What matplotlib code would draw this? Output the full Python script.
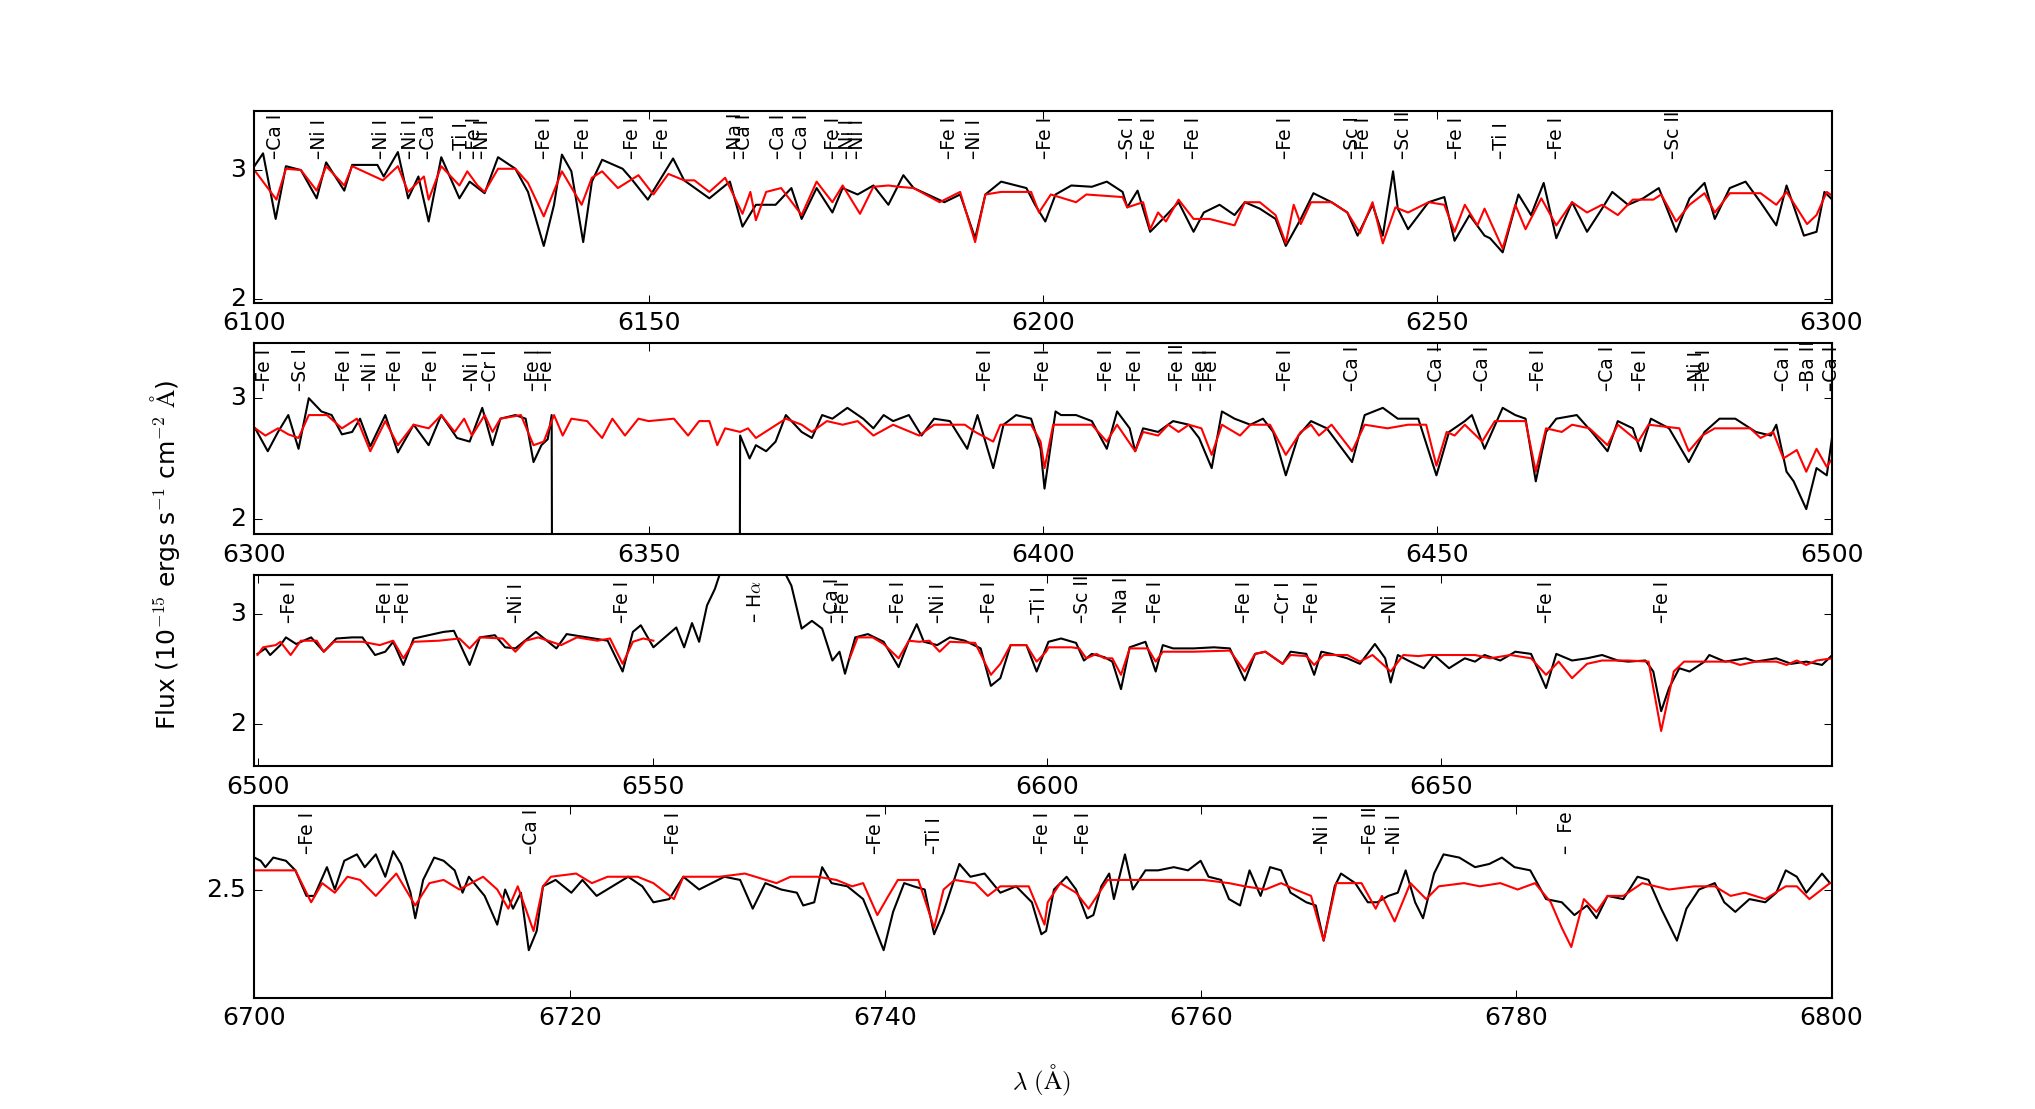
import matplotlib
matplotlib.use('Agg')
import matplotlib.pyplot as plt
import numpy as np

plt.style.use('classic')
plt.rcParams['axes.formatter.useoffset'] = False

# ---- panel 1 : 6100 - 6300 ----
wave1_obs = [6100.0, 6101.1, 6102.7, 6104.0, 6105.9, 6107.9, 6109.1, 6111.4, 6112.4, 6115.6, 6116.4, 6118.2,
             6119.5, 6120.8, 6122.1, 6123.7, 6126.0, 6127.3, 6129.2, 6130.9, 6133.1, 6134.7, 6136.7, 6138.0,
             6139.0, 6140.2, 6141.7, 6142.8, 6144.1, 6146.7, 6147.7, 6149.9, 6151.3, 6153.1, 6154.5, 6157.7,
             6160.3, 6161.9, 6163.6, 6166.1, 6168.1, 6169.4, 6171.3, 6173.3, 6174.6, 6176.5, 6178.5, 6180.4,
             6182.3, 6183.6, 6187.5, 6189.5, 6191.4, 6192.7, 6194.7, 6197.9, 6199.0, 6200.3, 6201.6, 6203.6,
             6206.2, 6208.1, 6210.1, 6210.7, 6212.0, 6213.6, 6215.2, 6217.2, 6219.1, 6220.4, 6222.4, 6224.3,
             6225.6, 6227.5, 6229.5, 6230.8, 6232.7, 6234.3, 6236.6, 6238.6, 6239.9, 6241.8, 6243.1, 6244.4,
             6245.0, 6246.3, 6248.9, 6250.9, 6252.2, 6254.1, 6256.0, 6256.7, 6258.3, 6260.3, 6261.9, 6263.5,
             6265.1, 6267.1, 6269.0, 6270.9, 6272.2, 6274.2, 6276.1, 6278.1, 6280.3, 6282.0, 6283.9, 6285.2,
             6287.1, 6289.1, 6291.0, 6293.0, 6294.3, 6296.5, 6298.1, 6299.1, 6300.1]
flux1_obs = [3.03, 3.13, 2.62, 3.03, 3.00, 2.78, 3.06, 2.84, 3.04, 3.04, 2.95, 3.14,
             2.78, 2.95, 2.60, 3.10, 2.78, 2.91, 2.82, 3.10, 3.01, 2.83, 2.41, 2.73,
             3.12, 2.99, 2.44, 2.91, 3.08, 3.01, 2.94, 2.77, 2.91, 3.09, 2.92, 2.78,
             2.91, 2.56, 2.73, 2.73, 2.86, 2.62, 2.86, 2.67, 2.86, 2.81, 2.88, 2.73,
             2.96, 2.86, 2.75, 2.81, 2.47, 2.81, 2.91, 2.86, 2.73, 2.60, 2.81, 2.88,
             2.87, 2.91, 2.83, 2.71, 2.84, 2.52, 2.62, 2.75, 2.52, 2.67, 2.73, 2.65,
             2.75, 2.70, 2.62, 2.41, 2.62, 2.82, 2.75, 2.67, 2.49, 2.73, 2.49, 2.99,
             2.70, 2.54, 2.75, 2.79, 2.45, 2.65, 2.49, 2.47, 2.36, 2.81, 2.65, 2.90,
             2.47, 2.75, 2.52, 2.70, 2.83, 2.73, 2.78, 2.86, 2.52, 2.78, 2.90, 2.62,
             2.86, 2.91, 2.75, 2.57, 2.88, 2.49, 2.52, 2.83, 2.77]
wave1_mod = [6100.0, 6102.8, 6104.0, 6105.9, 6107.9, 6109.1, 6111.4, 6112.4, 6116.3, 6118.2, 6119.5, 6121.5,
             6122.1, 6123.7, 6126.0, 6127.0, 6128.3, 6129.2, 6130.9, 6133.1, 6134.7, 6136.7, 6139.0, 6141.5,
             6142.8, 6144.1, 6146.1, 6148.7, 6150.6, 6152.5, 6154.5, 6155.8, 6157.7, 6159.7, 6161.9, 6162.9,
             6163.6, 6164.9, 6166.8, 6169.4, 6171.3, 6173.3, 6174.6, 6176.8, 6178.5, 6180.4, 6181.7, 6183.6,
             6186.9, 6189.5, 6191.4, 6192.7, 6194.7, 6198.5, 6199.5, 6201.0, 6204.2, 6205.5, 6210.1, 6210.7,
             6212.7, 6213.6, 6214.6, 6215.6, 6217.2, 6219.1, 6221.1, 6224.3, 6225.6, 6227.5, 6229.5, 6230.8,
             6231.8, 6232.7, 6234.0, 6236.6, 6238.6, 6240.2, 6241.8, 6243.1, 6244.7, 6246.3, 6248.9, 6250.9,
             6252.2, 6253.5, 6255.1, 6256.0, 6258.3, 6259.9, 6261.2, 6263.2, 6265.1, 6267.1, 6269.0, 6270.9,
             6272.9, 6274.8, 6277.4, 6278.4, 6280.3, 6282.0, 6283.9, 6285.2, 6287.1, 6291.0, 6293.0, 6294.3,
             6296.9, 6298.1, 6299.4, 6300.1]
flux1_mod = [3.00, 2.77, 3.01, 3.00, 2.84, 3.03, 2.88, 3.03, 2.92, 3.03, 2.83, 2.95,
             2.77, 3.03, 2.88, 2.99, 2.88, 2.83, 3.01, 3.01, 2.90, 2.64, 2.99, 2.73,
             2.94, 2.99, 2.86, 2.96, 2.81, 2.97, 2.92, 2.92, 2.83, 2.94, 2.66, 2.83,
             2.61, 2.83, 2.86, 2.65, 2.91, 2.75, 2.88, 2.66, 2.87, 2.88, 2.87, 2.86,
             2.75, 2.83, 2.44, 2.81, 2.83, 2.83, 2.67, 2.81, 2.75, 2.81, 2.79, 2.71,
             2.75, 2.54, 2.67, 2.60, 2.77, 2.62, 2.62, 2.57, 2.75, 2.75, 2.65, 2.43,
             2.73, 2.58, 2.75, 2.75, 2.67, 2.51, 2.75, 2.43, 2.71, 2.67, 2.75, 2.73,
             2.52, 2.73, 2.57, 2.70, 2.39, 2.73, 2.54, 2.78, 2.57, 2.75, 2.67, 2.73,
             2.65, 2.77, 2.77, 2.81, 2.60, 2.73, 2.82, 2.67, 2.82, 2.82, 2.73, 2.83,
             2.58, 2.65, 2.83, 2.80]
lines1_wave = [6102.7, 6108.2, 6116.1, 6119.8, 6122.1, 6126.3, 6127.9, 6128.9, 6136.8, 6141.8, 6147.9,
               6151.8, 6161.0, 6162.1, 6166.5, 6169.4, 6173.4, 6175.2, 6176.5, 6188.1, 6191.3, 6200.3,
               6210.7, 6213.5, 6219.1, 6230.8, 6239.3, 6240.6, 6245.7, 6252.5, 6258.2, 6265.1, 6280.0]
lines1_name = ['Ca I', 'Ni I', 'Ni I', 'Ni I', 'Ca I', 'Ti I', 'Fe I', 'Ni I', 'Fe I', 'Fe I', 'Fe I',
               'Fe I', 'Na I', 'Ca I', 'Ca I', 'Ca I', 'Fe I', 'Ni I', 'Ni I', 'Fe I', 'Ni I', 'Fe I',
               'Sc I', 'Fe I', 'Fe I', 'Fe I', 'Sc I', 'Fe I', 'Sc II', 'Fe I', 'Ti I', 'Fe I', 'Sc II']

# ---- panel 2 : 6300 - 6500 (gap in the data 6338 - 6361) ----
wave2_obs = [6300.1, 6301.7, 6303.0, 6304.3, 6305.6, 6306.9, 6308.5, 6309.8, 6311.1, 6312.4, 6313.4, 6314.7,
             6316.6, 6318.2, 6320.2, 6322.1, 6323.7, 6325.7, 6327.3, 6328.9, 6330.2, 6331.2, 6333.1, 6334.4,
             6335.4, 6336.4, 6337.2, 6337.7, 6337.8, 6361.5, 6361.6, 6362.8, 6363.6, 6364.9, 6366.1, 6367.4,
             6369.4, 6370.7, 6372.0, 6373.3, 6375.2, 6377.2, 6378.5, 6379.8, 6381.0, 6383.0, 6384.6, 6386.2,
             6388.2, 6390.4, 6391.7, 6393.7, 6395.0, 6396.6, 6398.5, 6399.7, 6400.2, 6401.6, 6402.3, 6404.2,
             6406.2, 6408.1, 6409.4, 6411.0, 6411.7, 6412.7, 6414.6, 6416.5, 6418.5, 6419.8, 6421.4, 6422.7,
             6424.3, 6426.3, 6427.9, 6429.2, 6430.8, 6432.4, 6434.0, 6436.0, 6439.2, 6440.8, 6443.1, 6445.0,
             6447.6, 6449.9, 6451.5, 6453.5, 6454.4, 6456.0, 6458.3, 6459.9, 6461.2, 6462.5, 6463.8, 6465.1,
             6467.7, 6469.6, 6471.6, 6472.9, 6474.8, 6475.8, 6477.1, 6479.4, 6481.9, 6483.9, 6485.8, 6487.8,
             6490.4, 6492.3, 6493.0, 6494.3, 6495.2, 6496.8, 6498.1, 6499.4, 6500.1]
flux2_obs = [2.75, 2.56, 2.72, 2.86, 2.58, 3.00, 2.89, 2.86, 2.70, 2.72, 2.83, 2.60,
             2.86, 2.55, 2.78, 2.61, 2.86, 2.67, 2.64, 2.92, 2.61, 2.83, 2.86, 2.83,
             2.47, 2.61, 2.66, 2.86, 0.00, 0.00, 2.69, 2.50, 2.61, 2.56, 2.64, 2.86,
             2.72, 2.67, 2.86, 2.83, 2.92, 2.83, 2.75, 2.86, 2.81, 2.86, 2.69, 2.83,
             2.81, 2.58, 2.86, 2.42, 2.78, 2.86, 2.83, 2.58, 2.25, 2.89, 2.86, 2.86,
             2.81, 2.58, 2.89, 2.75, 2.56, 2.75, 2.72, 2.81, 2.78, 2.67, 2.42, 2.89,
             2.83, 2.78, 2.83, 2.72, 2.36, 2.69, 2.81, 2.75, 2.47, 2.86, 2.92, 2.83,
             2.83, 2.36, 2.72, 2.81, 2.86, 2.58, 2.92, 2.86, 2.83, 2.31, 2.72, 2.83,
             2.86, 2.72, 2.56, 2.81, 2.75, 2.56, 2.83, 2.75, 2.47, 2.72, 2.83, 2.83,
             2.72, 2.69, 2.78, 2.39, 2.31, 2.08, 2.42, 2.36, 2.69]
wave2_mod = [6300.1, 6301.4, 6303.0, 6304.3, 6305.6, 6306.9, 6309.2, 6311.1, 6313.0, 6314.7, 6316.6, 6318.2,
             6320.2, 6322.1, 6323.7, 6325.4, 6326.6, 6327.6, 6329.2, 6330.2, 6331.2, 6333.8, 6335.4, 6336.7,
             6338.0, 6339.1, 6340.2, 6342.2, 6344.1, 6345.4, 6347.0, 6348.7, 6350.0, 6353.2, 6355.0, 6356.4,
             6357.7, 6358.7, 6359.7, 6361.6, 6362.6, 6363.6, 6365.5, 6367.4, 6369.4, 6370.7, 6372.6, 6374.6,
             6376.5, 6378.5, 6381.0, 6384.3, 6386.2, 6390.1, 6391.4, 6393.7, 6394.6, 6398.5, 6399.7, 6400.2,
             6401.3, 6406.2, 6408.1, 6409.4, 6411.7, 6412.7, 6414.6, 6415.9, 6417.2, 6418.5, 6420.1, 6421.4,
             6422.7, 6425.0, 6426.3, 6428.8, 6430.8, 6432.7, 6434.0, 6435.0, 6436.6, 6439.2, 6440.8, 6443.7,
             6446.3, 6448.6, 6449.9, 6451.2, 6452.2, 6453.5, 6455.7, 6457.3, 6461.2, 6462.5, 6463.8, 6465.8,
             6467.1, 6469.3, 6471.6, 6472.9, 6475.5, 6476.8, 6480.7, 6481.9, 6483.6, 6485.2, 6489.7, 6491.0,
             6492.6, 6493.9, 6495.6, 6496.8, 6498.1, 6499.4, 6500.1]
flux2_mod = [2.75, 2.69, 2.75, 2.70, 2.67, 2.86, 2.86, 2.75, 2.83, 2.56, 2.81, 2.61,
             2.78, 2.75, 2.86, 2.72, 2.83, 2.69, 2.86, 2.72, 2.83, 2.86, 2.61, 2.64,
             2.86, 2.69, 2.83, 2.81, 2.67, 2.83, 2.69, 2.83, 2.81, 2.83, 2.69, 2.81,
             2.81, 2.61, 2.75, 2.72, 2.75, 2.67, 2.75, 2.83, 2.78, 2.72, 2.81, 2.78,
             2.81, 2.69, 2.78, 2.69, 2.78, 2.78, 2.72, 2.64, 2.78, 2.78, 2.64, 2.42,
             2.78, 2.78, 2.64, 2.78, 2.56, 2.72, 2.69, 2.78, 2.72, 2.78, 2.75, 2.53,
             2.78, 2.69, 2.78, 2.78, 2.53, 2.72, 2.78, 2.69, 2.78, 2.56, 2.78, 2.75,
             2.78, 2.78, 2.44, 2.72, 2.69, 2.78, 2.64, 2.81, 2.81, 2.39, 2.75, 2.72,
             2.78, 2.75, 2.61, 2.78, 2.64, 2.78, 2.75, 2.56, 2.69, 2.75, 2.75, 2.67,
             2.72, 2.50, 2.57, 2.39, 2.58, 2.43, 2.50]
lines2_wave = [6301.3, 6305.9, 6311.4, 6314.7, 6317.9, 6322.4, 6327.6, 6330.0, 6335.4, 6337.0, 6392.7,
               6400.1, 6408.1, 6411.7, 6417.1, 6420.1, 6421.4, 6430.8, 6439.2, 6449.9, 6455.7, 6462.8,
               6471.6, 6475.8, 6482.9, 6483.9, 6493.9, 6497.1, 6500.0]
lines2_name = ['Fe I', 'Sc I', 'Fe I', 'Ni I', 'Fe I', 'Fe I', 'Ni I', 'Cr I', 'Fe I', 'Fe I', 'Fe I',
               'Fe I', 'Fe I', 'Fe I', 'Fe II', 'Fe I', 'Fe I', 'Fe I', 'Ca I', 'Ca I', 'Ca I', 'Fe I',
               'Ca I', 'Fe I', 'Ni I', 'Fe I', 'Ca I', 'Ba II', 'Ca I']

# ---- panel 3 : 6500 - 6700 (H alpha emission runs off the top) ----
wave3_obs = [6499.9, 6500.9, 6501.5, 6502.8, 6503.5, 6504.8, 6506.7, 6508.3, 6509.9, 6511.9, 6513.2, 6514.8,
             6516.1, 6517.1, 6518.4, 6519.7, 6521.6, 6523.5, 6524.8, 6526.8, 6528.1, 6530.0, 6531.3, 6532.6,
             6535.2, 6537.8, 6539.1, 6541.7, 6544.3, 6546.2, 6547.5, 6548.5, 6550.1, 6553.0, 6554.0, 6555.0,
             6555.9, 6556.9, 6557.9, 6558.5, 6560.0, 6562.8, 6565.5, 6566.6, 6567.6, 6568.9, 6570.2, 6571.5,
             6572.8, 6573.7, 6574.4, 6575.7, 6577.3, 6579.3, 6581.2, 6582.5, 6583.5, 6584.4, 6586.1, 6587.7,
             6589.6, 6591.6, 6592.9, 6594.1, 6595.4, 6597.4, 6598.7, 6600.2, 6601.8, 6603.7, 6604.7, 6605.7,
             6607.3, 6608.3, 6609.4, 6610.5, 6612.5, 6613.8, 6614.7, 6616.0, 6618.6, 6621.2, 6623.2, 6625.1,
             6626.4, 6627.7, 6629.9, 6630.9, 6632.9, 6633.9, 6634.8, 6636.1, 6638.1, 6639.7, 6641.6, 6642.9,
             6643.6, 6644.5, 6645.8, 6647.8, 6649.1, 6651.0, 6653.0, 6654.3, 6655.5, 6657.5, 6659.4, 6661.4,
             6663.3, 6664.6, 6666.6, 6668.5, 6670.4, 6672.4, 6673.7, 6675.9, 6676.9, 6677.9, 6678.9, 6680.2,
             6681.5, 6683.4, 6684.0, 6686.0, 6688.6, 6689.9, 6692.5, 6694.4, 6696.3, 6698.3, 6699.6]
flux3_obs = [2.64, 2.69, 2.63, 2.72, 2.79, 2.73, 2.79, 2.66, 2.78, 2.79, 2.79, 2.63,
             2.66, 2.75, 2.54, 2.78, 2.81, 2.84, 2.85, 2.54, 2.79, 2.81, 2.70, 2.69,
             2.84, 2.69, 2.82, 2.79, 2.76, 2.48, 2.84, 2.90, 2.70, 2.88, 2.70, 2.92,
             2.75, 3.08, 3.23, 3.36, 3.90, 4.30, 3.80, 3.40, 3.26, 2.87, 2.94, 2.87,
             2.58, 2.66, 2.46, 2.79, 2.82, 2.75, 2.52, 2.76, 2.91, 2.75, 2.72, 2.79,
             2.76, 2.69, 2.35, 2.42, 2.72, 2.72, 2.48, 2.75, 2.78, 2.74, 2.58, 2.64,
             2.61, 2.57, 2.32, 2.70, 2.75, 2.48, 2.72, 2.69, 2.69, 2.70, 2.69, 2.40,
             2.64, 2.66, 2.55, 2.66, 2.64, 2.45, 2.66, 2.64, 2.60, 2.55, 2.73, 2.60,
             2.38, 2.63, 2.58, 2.51, 2.63, 2.51, 2.60, 2.57, 2.63, 2.58, 2.66, 2.64,
             2.33, 2.64, 2.58, 2.60, 2.63, 2.58, 2.57, 2.58, 2.48, 2.12, 2.33, 2.51,
             2.48, 2.57, 2.63, 2.57, 2.60, 2.57, 2.60, 2.55, 2.57, 2.54, 2.63]
wave3_mod_blue = [6499.9, 6500.6, 6502.2, 6502.8, 6504.1, 6505.4, 6507.4, 6508.3, 6509.6, 6513.2, 6515.4, 6517.1,
                  6518.4, 6519.7, 6522.9, 6525.5, 6526.8, 6528.1, 6531.0, 6532.6, 6533.9, 6535.5, 6538.4, 6540.4,
                  6543.0, 6544.6, 6546.2, 6547.5, 6548.8, 6550.1]
flux3_mod_blue = [2.63, 2.70, 2.72, 2.75, 2.63, 2.76, 2.76, 2.66, 2.75, 2.75, 2.72, 2.76,
                  2.60, 2.75, 2.76, 2.78, 2.69, 2.79, 2.78, 2.66, 2.76, 2.79, 2.72, 2.79,
                  2.76, 2.78, 2.55, 2.75, 2.78, 2.76]
wave3_mod_red = [6575.0, 6576.0, 6577.9, 6579.3, 6581.2, 6582.5, 6583.8, 6585.1, 6586.4, 6587.7, 6590.9, 6592.9,
                 6594.1, 6595.4, 6597.4, 6598.7, 6599.9, 6600.2, 6603.1, 6604.1, 6605.0, 6606.3, 6607.3, 6608.3,
                 6609.4, 6610.5, 6612.8, 6613.8, 6614.7, 6618.6, 6623.2, 6625.1, 6626.4, 6627.7, 6629.9, 6630.9,
                 6632.9, 6633.9, 6635.1, 6638.1, 6639.7, 6641.3, 6643.6, 6645.2, 6647.1, 6648.4, 6651.0, 6654.3,
                 6656.2, 6658.8, 6661.4, 6663.3, 6664.9, 6666.6, 6668.5, 6670.4, 6673.7, 6676.3, 6677.9, 6679.5,
                 6680.8, 6683.4, 6686.6, 6687.9, 6689.9, 6692.5, 6693.8, 6695.1, 6696.3, 6697.6, 6699.6]
flux3_mod_red = [2.60, 2.79, 2.79, 2.73, 2.60, 2.76, 2.75, 2.76, 2.66, 2.75, 2.74, 2.45,
                 2.55, 2.72, 2.72, 2.57, 2.66, 2.70, 2.70, 2.69, 2.60, 2.64, 2.60, 2.60,
                 2.45, 2.69, 2.69, 2.57, 2.66, 2.66, 2.67, 2.48, 2.64, 2.66, 2.55, 2.63,
                 2.62, 2.54, 2.63, 2.63, 2.57, 2.63, 2.48, 2.63, 2.62, 2.63, 2.63, 2.63,
                 2.60, 2.63, 2.60, 2.45, 2.57, 2.42, 2.55, 2.58, 2.58, 2.57, 1.94, 2.48,
                 2.57, 2.57, 2.57, 2.54, 2.57, 2.57, 2.54, 2.58, 2.54, 2.58, 2.60]
lines3_wave = [6504.0, 6516.1, 6518.4, 6532.7, 6546.2, 6563.1, 6572.8, 6574.2, 6581.2, 6586.3, 6592.7,
               6599.1, 6604.5, 6609.4, 6613.8, 6625.1, 6630.0, 6633.7, 6643.6, 6663.4, 6678.1]
lines3_name = ['Fe I', 'Fe I', 'Fe I', 'Ni I', 'Fe I', r' H$\alpha$', 'Ca I', 'Fe I', 'Fe I', 'Ni I', 'Fe I',
               'Ti I', 'Sc II', 'Na II', 'Fe I', 'Fe I', 'Cr I', 'Fe I', 'Ni I', 'Fe I', 'Fe I']

# ---- panel 4 : 6700 - 6800 ----
wave4_obs = [6700.0, 6700.4, 6700.7, 6701.2, 6702.0, 6702.6, 6703.3, 6703.8, 6704.6, 6705.1, 6705.7, 6706.5,
             6707.0, 6707.7, 6708.3, 6708.8, 6709.3, 6709.9, 6710.2, 6710.7, 6711.4, 6712.0, 6712.7, 6713.2,
             6713.6, 6714.6, 6715.4, 6715.9, 6716.4, 6716.9, 6717.4, 6717.9, 6718.3, 6719.1, 6720.1, 6720.8,
             6721.7, 6722.7, 6723.7, 6724.6, 6725.3, 6726.3, 6727.2, 6728.2, 6729.8, 6730.8, 6731.6, 6732.4,
             6733.4, 6734.4, 6734.8, 6735.5, 6736.0, 6736.6, 6737.6, 6738.6, 6739.1, 6739.9, 6740.5, 6741.2,
             6741.8, 6742.5, 6743.1, 6743.7, 6744.7, 6745.4, 6746.3, 6747.3, 6748.3, 6749.3, 6749.9, 6750.2,
             6750.7, 6751.1, 6751.5, 6752.1, 6752.8, 6753.2, 6753.7, 6754.2, 6754.5, 6755.2, 6755.7, 6756.5,
             6757.3, 6758.3, 6759.2, 6760.0, 6760.5, 6761.3, 6761.8, 6762.5, 6763.1, 6763.8, 6764.4, 6765.1,
             6765.7, 6766.7, 6767.3, 6767.8, 6768.5, 6768.9, 6769.8, 6770.6, 6771.2, 6771.9, 6772.5, 6773.0,
             6773.6, 6774.1, 6774.8, 6775.4, 6776.4, 6777.4, 6778.3, 6779.1, 6779.9, 6780.9, 6781.9, 6782.9,
             6783.7, 6784.5, 6785.1, 6785.8, 6786.8, 6787.7, 6788.4, 6789.2, 6790.2, 6790.8, 6791.6, 6792.6,
             6793.2, 6793.9, 6794.8, 6795.8, 6796.5, 6797.1, 6797.8, 6798.4, 6799.4, 6799.9]
flux4_obs = [2.60, 2.59, 2.57, 2.60, 2.59, 2.56, 2.48, 2.48, 2.57, 2.50, 2.59, 2.61,
             2.57, 2.61, 2.54, 2.62, 2.58, 2.49, 2.41, 2.53, 2.60, 2.59, 2.56, 2.49,
             2.54, 2.48, 2.39, 2.50, 2.44, 2.49, 2.31, 2.37, 2.51, 2.53, 2.49, 2.53,
             2.48, 2.51, 2.54, 2.51, 2.46, 2.47, 2.54, 2.50, 2.54, 2.53, 2.44, 2.52,
             2.50, 2.49, 2.45, 2.46, 2.57, 2.52, 2.51, 2.47, 2.41, 2.31, 2.43, 2.52,
             2.51, 2.50, 2.36, 2.43, 2.58, 2.54, 2.55, 2.49, 2.51, 2.46, 2.36, 2.37,
             2.50, 2.52, 2.54, 2.50, 2.41, 2.42, 2.51, 2.55, 2.47, 2.61, 2.50, 2.56,
             2.56, 2.57, 2.56, 2.59, 2.54, 2.53, 2.47, 2.45, 2.56, 2.48, 2.57, 2.56,
             2.49, 2.46, 2.45, 2.34, 2.51, 2.55, 2.52, 2.46, 2.46, 2.48, 2.49, 2.56,
             2.46, 2.41, 2.55, 2.61, 2.60, 2.57, 2.58, 2.60, 2.57, 2.56, 2.47, 2.46,
             2.42, 2.45, 2.41, 2.48, 2.47, 2.54, 2.53, 2.44, 2.34, 2.44, 2.50, 2.52,
             2.46, 2.43, 2.47, 2.46, 2.49, 2.56, 2.54, 2.49, 2.55, 2.52]
wave4_mod = [6700.0, 6702.6, 6703.6, 6704.3, 6705.1, 6705.9, 6706.7, 6707.7, 6709.0, 6710.2, 6711.1, 6712.0,
             6713.0, 6714.5, 6715.4, 6716.1, 6716.7, 6717.7, 6718.3, 6718.8, 6720.4, 6721.4, 6722.4, 6724.3,
             6725.3, 6726.6, 6727.2, 6729.5, 6731.1, 6733.1, 6734.0, 6735.7, 6736.9, 6737.9, 6738.6, 6739.5,
             6740.2, 6740.8, 6742.1, 6743.1, 6743.7, 6744.4, 6745.7, 6746.5, 6747.3, 6748.3, 6749.1, 6750.1,
             6750.3, 6751.1, 6752.1, 6752.9, 6754.1, 6755.7, 6758.3, 6760.2, 6761.8, 6762.8, 6764.1, 6765.1,
             6766.0, 6767.0, 6767.8, 6768.6, 6770.2, 6771.1, 6771.5, 6772.3, 6773.3, 6774.3, 6775.1, 6776.7,
             6777.7, 6779.0, 6780.1, 6781.2, 6782.2, 6782.9, 6783.5, 6784.3, 6785.1, 6785.8, 6786.8, 6788.0,
             6789.7, 6791.3, 6792.6, 6793.6, 6794.5, 6795.8, 6797.1, 6797.8, 6798.6, 6799.9]
flux4_mod = [2.56, 2.56, 2.46, 2.52, 2.49, 2.54, 2.53, 2.48, 2.55, 2.45, 2.52, 2.53,
             2.50, 2.54, 2.50, 2.44, 2.51, 2.37, 2.51, 2.54, 2.55, 2.52, 2.54, 2.54,
             2.52, 2.47, 2.54, 2.54, 2.55, 2.52, 2.54, 2.54, 2.53, 2.51, 2.52, 2.42,
             2.48, 2.53, 2.53, 2.38, 2.50, 2.53, 2.52, 2.48, 2.51, 2.51, 2.51, 2.39,
             2.46, 2.52, 2.49, 2.44, 2.53, 2.53, 2.53, 2.53, 2.52, 2.51, 2.50, 2.52,
             2.50, 2.48, 2.34, 2.52, 2.52, 2.44, 2.48, 2.40, 2.52, 2.47, 2.51, 2.52,
             2.51, 2.52, 2.50, 2.52, 2.46, 2.38, 2.32, 2.47, 2.43, 2.48, 2.48, 2.52,
             2.50, 2.51, 2.51, 2.48, 2.49, 2.47, 2.51, 2.51, 2.47, 2.52]
lines4_wave = [6703.4, 6717.6, 6726.6, 6739.4, 6743.1, 6750.0, 6752.6, 6767.7, 6770.8, 6772.3, 6783.2]
lines4_name = ['Fe I', 'Ca I', 'Fe I', 'Fe I', 'Ti I', 'Fe I', 'Fe I', 'Ni I', 'Fe II', 'Ni I', '  Fe']

panels = [
    (wave1_obs, flux1_obs, [(wave1_mod, flux1_mod)], lines1_wave, lines1_name,
     (6100, 6300), (1.97, 3.46), [2, 3], np.arange(6100, 6301, 50)),
    (wave2_obs, flux2_obs, [(wave2_mod, flux2_mod)], lines2_wave, lines2_name,
     (6300, 6500), (1.87, 3.46), [2, 3], np.arange(6300, 6501, 50)),
    (wave3_obs, flux3_obs, [(wave3_mod_blue, flux3_mod_blue), (wave3_mod_red, flux3_mod_red)],
     lines3_wave, lines3_name, (6499.5, 6699.5), (1.62, 3.36), [2, 3], np.arange(6500, 6700, 50)),
    (wave4_obs, flux4_obs, [(wave4_mod, flux4_mod)], lines4_wave, lines4_name,
     (6700, 6800), (2.16, 2.76), [2.5], np.arange(6700, 6801, 20)),
]

fig = plt.figure(figsize=(2035 / 150., 1109 / 150.), dpi=150, facecolor='white')
fig.subplots_adjust(left=0.125, right=0.9, top=0.9, bottom=0.1, hspace=0.21)

for i, (wo, fo, models, lw_, ln_, xl, yl, yt, xt) in enumerate(panels):
    ax = fig.add_subplot(4, 1, i + 1)
    ax.plot(wo, fo, color='k', lw=1.0)
    for wm, fm in models:
        ax.plot(wm, fm, color='r', lw=1.0)
    ax.set_xlim(xl)
    ax.set_ylim(yl)
    ax.set_yticks(yt)
    ax.set_xticks(xt)
    trans = ax.get_xaxis_transform()
    # line identifications, written bottom-up with a tick mark in front
    for w, name in zip(lw_, ln_):
        ax.text(w, 0.75, u'\u2013' + name, transform=trans, rotation=90,
                ha='center', va='bottom', fontsize=9)

fig.text(0.512, 0.026, r'$\lambda\ (\mathrm{\AA})$', ha='center', va='center', fontsize=12)
fig.text(0.081, 0.5, r'Flux (10$^{-15}$ ergs s$^{-1}$ cm$^{-2}$ $\mathrm{\AA}$)', rotation=90,
         ha='center', va='center', fontsize=12)

fig.savefig('out.png', dpi=150, facecolor='white')
